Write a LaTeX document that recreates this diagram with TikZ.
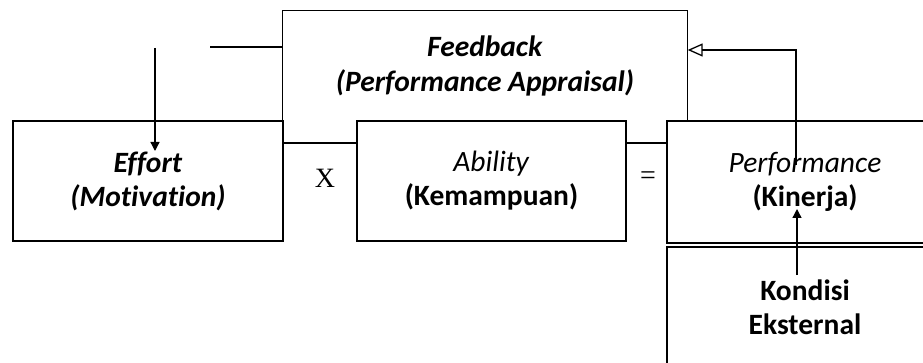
\documentclass[tikz,border=0pt]{standalone}
\usepackage{fontspec}
\setmainfont{Carlito}[Ligatures={NoCommon}]
\newfontfamily\xfont{Liberation Serif}
\usetikzlibrary{arrows.meta,calc}
\begin{document}
\begin{tikzpicture}[x=1pt,y=-1pt,line width=1.3pt,
  boxst/.style={draw,rectangle,inner sep=0pt,align=center,font=\fontsize{29.5}{34}\selectfont},
  plain/.style={inner sep=0pt,align=center,font=\fontsize{29.5}{35}\selectfont}]
\useasboundingbox (0,0) rectangle (923,363);
\fill[white] (0,0) rectangle (923,363);
\node[boxst,minimum width=270pt,minimum height=120pt] (effort) at (148,181) {\textbf{\textit{Effort}}\\\textbf{\textit{(Motivation)}}};
\node[boxst,minimum width=269pt,minimum height=120pt] (ability) at (491.5,181) {\textit{Ability}\\\textbf{(Kemampuan)}};
\node[boxst,minimum width=276pt,minimum height=122pt] (perf) at (805,182) {\textit{Performance}\\\textbf{(Kinerja)}};
\node[boxst,minimum width=276pt,minimum height=120pt] (kond) at (805,307) {\textbf{Kondisi}\\\textbf{Eksternal}};
\node[plain,minimum width=404pt,minimum height=110pt] (fb) at (485,66) {\textbf{\textit{Feedback}}\\\textbf{\textit{(Performance Appraisal)}}};
\draw (fb.south west) -- (fb.north west) -- (fb.north east) -- (fb.south east);
\node[plain,font=\xfont\fontsize{28}{30}\selectfont] (x) at (325,178) {X};
\node[plain,font=\xfont\fontsize{28}{30}\selectfont] (eq) at (648,178) {=};
\draw (effort.east |- 0,143) -- (ability.west |- 0,143);
\draw (ability.east |- 0,143) -- (perf.west |- 0,143);
\coordinate (fbl) at (210,47);
\coordinate (ea0) at (155,48);
\coordinate (ea1) at (155,151);
\draw (fb.west |- fbl) -- (fbl);
\draw[-{Triangle[length=9pt,width=9pt]}] (ea0) -- (ea1);
\coordinate (p0) at (796,165);
\coordinate (p1) at (796,50);
\draw[-{Triangle[open,length=15pt,width=13pt,line width=1.3pt]}] (p0) -- (p1) -- (fb.east |- p1);
\coordinate (k0) at (797,275);
\coordinate (k1) at (797,209);
\draw[-{Triangle[length=9pt,width=9pt]}] (k0) -- (k1);
\end{tikzpicture}
\end{document}
